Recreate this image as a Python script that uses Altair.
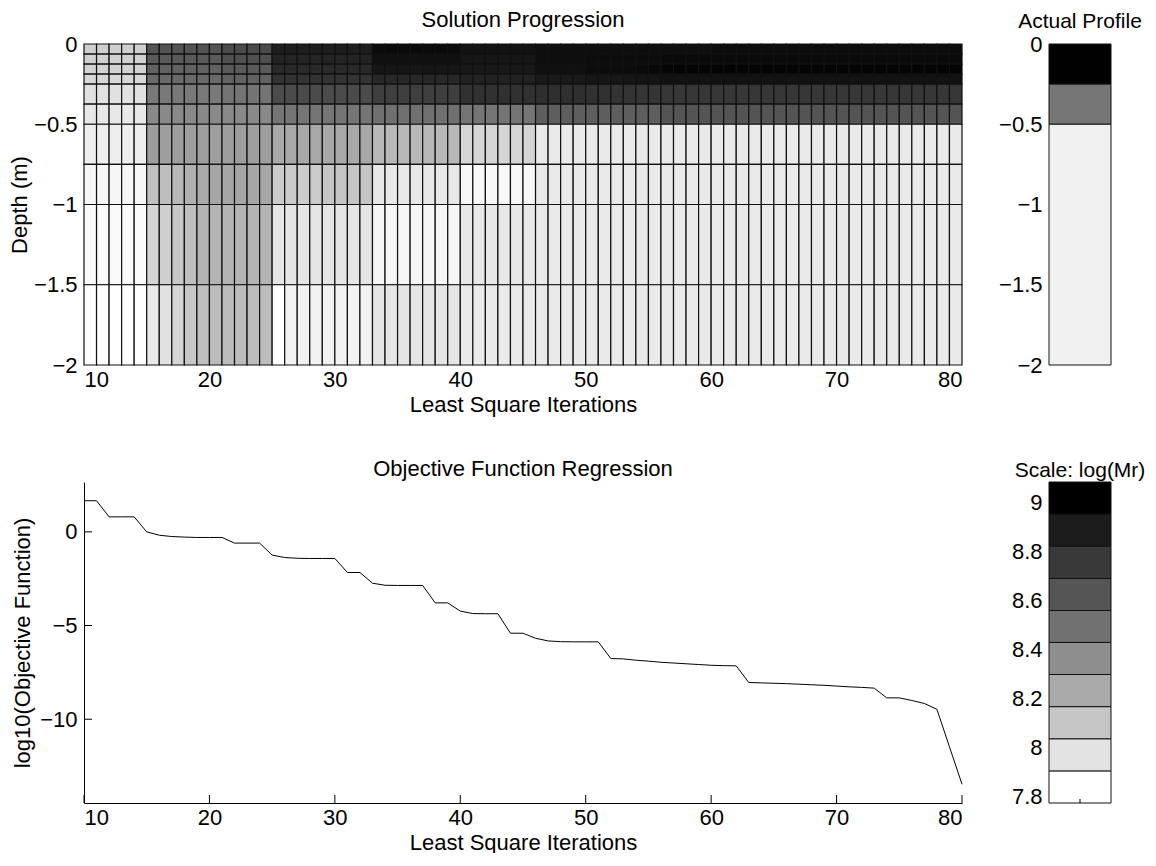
import altair as alt
import pandas as pd

# ---------------- data ----------------
iterations = list(range(10, 81))

objective = [1.66, 1.66, 0.80, 0.80, 0.80, 0.00, -0.18, -0.25, -0.28, -0.30,
             -0.30, -0.30, -0.60, -0.60, -0.60, -1.24, -1.37, -1.41, -1.42, -1.42,
             -1.42, -2.17, -2.17, -2.74, -2.85, -2.86, -2.86, -2.86, -3.79, -3.79,
             -4.23, -4.36, -4.37, -4.37, -5.41, -5.41, -5.68, -5.82, -5.86, -5.87,
             -5.87, -5.87, -6.76, -6.78, -6.85, -6.90, -6.96, -7.00, -7.04, -7.08,
             -7.12, -7.14, -7.15, -8.04, -8.06, -8.08, -8.10, -8.13, -8.16, -8.19,
             -8.23, -8.27, -8.30, -8.34, -8.86, -8.86, -9.00, -9.16, -9.47, -11.47,
             -13.47]

depth_edges = [0, -0.0625, -0.125, -0.1875, -0.25, -0.375, -0.5, -0.75, -1.0, -1.5, -2.0]

# log(Mr) per layer, one value per iteration column 10..79
L1 = [8.02, 8.02, 8.02, 8.02, 8.02, 8.65, 8.65, 8.65, 8.65, 8.65,
      8.65, 8.70, 8.70, 8.70, 8.70, 8.93, 8.93, 8.93, 8.93, 8.93,
      8.93, 8.93, 8.93, 9.03, 9.03, 9.03, 9.03, 9.03, 9.03, 9.03,
      8.99, 8.99, 8.99, 8.99, 8.99, 8.99, 9.01, 9.01, 9.01, 9.01,
      9.01, 9.01, 9.01, 9.01, 9.01, 9.01, 9.01, 9.01, 9.01, 9.01,
      9.02, 9.02, 9.02, 9.02, 9.02, 9.02, 9.02, 9.02, 9.02, 9.02,
      9.02, 9.02, 9.02, 9.02, 9.02, 9.02, 9.02, 9.02, 9.02, 9.02]
L2 = [8.01, 8.01, 8.01, 8.01, 8.01, 8.62, 8.62, 8.62, 8.62, 8.62,
      8.62, 8.67, 8.67, 8.67, 8.67, 8.90, 8.90, 8.90, 8.90, 8.90,
      8.90, 8.90, 8.90, 9.00, 9.00, 9.00, 9.00, 9.00, 9.00, 9.00,
      8.97, 8.97, 8.97, 8.97, 8.97, 8.97, 9.01, 9.01, 9.01, 9.01,
      9.02, 9.02, 9.02, 9.02, 9.02, 9.02, 9.03, 9.03, 9.03, 9.03,
      9.03, 9.03, 9.03, 9.03, 9.03, 9.03, 9.03, 9.03, 9.03, 9.03,
      9.03, 9.03, 9.03, 9.03, 9.03, 9.03, 9.03, 9.03, 9.03, 9.03]
L3 = [8.00, 8.00, 8.00, 8.00, 8.00, 8.58, 8.58, 8.58, 8.58, 8.58,
      8.58, 8.62, 8.62, 8.62, 8.62, 8.87, 8.87, 8.87, 8.87, 8.87,
      8.87, 8.87, 8.87, 8.97, 8.97, 8.97, 8.97, 8.97, 8.97, 8.97,
      8.96, 8.96, 8.96, 8.96, 8.96, 8.96, 9.00, 9.00, 9.00, 9.00,
      9.02, 9.02, 9.02, 9.02, 9.03, 9.04, 9.05, 9.06, 9.06, 9.06,
      9.06, 9.06, 9.06, 9.06, 9.06, 9.06, 9.06, 9.06, 9.06, 9.06,
      9.06, 9.06, 9.06, 9.06, 9.06, 9.06, 9.06, 9.06, 9.06, 9.06]
L4 = [7.98, 7.98, 7.98, 7.98, 7.98, 8.54, 8.54, 8.54, 8.54, 8.54,
      8.54, 8.58, 8.58, 8.58, 8.58, 8.82, 8.82, 8.82, 8.82, 8.82,
      8.82, 8.82, 8.82, 8.88, 8.88, 8.88, 8.88, 8.88, 8.88, 8.88,
      8.91, 8.91, 8.91, 8.91, 8.91, 8.91, 8.95, 8.95, 8.95, 8.95,
      8.97, 8.97, 8.97, 8.97, 8.98, 8.98, 8.99, 8.99, 8.99, 8.99,
      8.99, 8.99, 8.99, 8.99, 8.99, 8.99, 8.99, 8.99, 8.99, 8.99,
      8.99, 8.99, 8.99, 8.99, 8.99, 8.99, 8.99, 8.99, 8.99, 8.99]
L5 = [7.93, 7.93, 7.93, 7.93, 7.93, 8.46, 8.46, 8.46, 8.46, 8.46,
      8.46, 8.49, 8.49, 8.49, 8.49, 8.70, 8.70, 8.70, 8.70, 8.70,
      8.70, 8.70, 8.70, 8.76, 8.76, 8.76, 8.76, 8.76, 8.76, 8.76,
      8.83, 8.83, 8.83, 8.83, 8.83, 8.83, 8.84, 8.84, 8.84, 8.84,
      8.83, 8.83, 8.82, 8.82, 8.81, 8.81, 8.80, 8.80, 8.80, 8.80,
      8.80, 8.80, 8.80, 8.80, 8.80, 8.80, 8.80, 8.80, 8.80, 8.80,
      8.80, 8.80, 8.80, 8.80, 8.80, 8.80, 8.80, 8.80, 8.80, 8.80]
L6 = [7.89, 7.89, 7.89, 7.89, 7.89, 8.38, 8.38, 8.38, 8.38, 8.38,
      8.38, 8.38, 8.38, 8.38, 8.38, 8.48, 8.48, 8.48, 8.48, 8.48,
      8.48, 8.48, 8.48, 8.51, 8.51, 8.51, 8.51, 8.51, 8.51, 8.51,
      8.48, 8.48, 8.48, 8.48, 8.48, 8.48, 8.60, 8.60, 8.60, 8.60,
      8.60, 8.60, 8.60, 8.60, 8.60, 8.60, 8.65, 8.65, 8.65, 8.65,
      8.65, 8.65, 8.65, 8.65, 8.65, 8.65, 8.65, 8.65, 8.65, 8.65,
      8.65, 8.65, 8.65, 8.65, 8.65, 8.65, 8.65, 8.65, 8.65, 8.65]
L7 = [7.86, 7.86, 7.86, 7.86, 7.86, 8.27, 8.27, 8.27, 8.27, 8.27,
      8.27, 8.27, 8.27, 8.27, 8.27, 8.22, 8.22, 8.22, 8.22, 8.22,
      8.22, 8.22, 8.22, 8.14, 8.14, 8.14, 8.14, 8.14, 8.14, 8.14,
      7.99, 7.99, 7.99, 7.99, 7.99, 7.99, 7.88, 7.88, 7.88, 7.88,
      7.88, 7.88, 7.88, 7.88, 7.88, 7.88, 7.88, 7.88, 7.88, 7.88,
      7.88, 7.88, 7.88, 7.88, 7.88, 7.88, 7.88, 7.88, 7.88, 7.88,
      7.88, 7.88, 7.88, 7.88, 7.88, 7.88, 7.88, 7.88, 7.88, 7.88]
L8 = [7.82, 7.82, 7.82, 7.82, 7.82, 8.10, 8.11, 8.14, 8.18, 8.21,
      8.23, 8.23, 8.23, 8.23, 8.23, 8.04, 8.04, 8.04, 8.04, 8.07,
      8.07, 8.07, 8.07, 7.89, 7.89, 7.89, 7.89, 7.89, 7.89, 7.89,
      7.81, 7.81, 7.81, 7.81, 7.81, 7.81, 7.88, 7.88, 7.88, 7.88,
      7.88, 7.88, 7.88, 7.88, 7.88, 7.88, 7.88, 7.88, 7.88, 7.88,
      7.88, 7.88, 7.88, 7.88, 7.88, 7.88, 7.88, 7.88, 7.88, 7.88,
      7.88, 7.88, 7.88, 7.88, 7.88, 7.88, 7.88, 7.88, 7.88, 7.88]
L9 = [7.80, 7.80, 7.80, 7.80, 7.80, 7.99, 8.02, 8.06, 8.10, 8.16,
      8.16, 8.16, 8.16, 8.16, 8.16, 7.91, 7.91, 7.91, 7.91, 7.91,
      7.91, 7.91, 7.91, 7.82, 7.82, 7.82, 7.82, 7.82, 7.82, 7.82,
      7.89, 7.89, 7.89, 7.89, 7.89, 7.89, 7.88, 7.88, 7.88, 7.88,
      7.88, 7.88, 7.88, 7.88, 7.88, 7.88, 7.88, 7.88, 7.88, 7.88,
      7.88, 7.88, 7.88, 7.88, 7.88, 7.88, 7.88, 7.88, 7.88, 7.88,
      7.88, 7.88, 7.88, 7.88, 7.88, 7.88, 7.88, 7.88, 7.88, 7.88]
L10 = [7.77, 7.77, 7.77, 7.77, 7.77, 7.88, 7.93, 7.99, 8.06, 8.10,
       8.12, 8.12, 8.12, 8.12, 8.12, 7.77, 7.84, 7.84, 7.84, 7.84,
       7.84, 7.84, 7.84, 7.91, 7.91, 7.91, 7.91, 7.91, 7.91, 7.91,
       7.88, 7.88, 7.88, 7.88, 7.88, 7.88, 7.88, 7.88, 7.88, 7.88,
       7.88, 7.88, 7.88, 7.88, 7.88, 7.88, 7.88, 7.88, 7.88, 7.88,
       7.88, 7.88, 7.88, 7.88, 7.88, 7.88, 7.88, 7.88, 7.88, 7.88,
       7.88, 7.88, 7.88, 7.88, 7.88, 7.88, 7.88, 7.88, 7.88, 7.88]
layers = [L1, L2, L3, L4, L5, L6, L7, L8, L9, L10]

true_edges = [0, -0.25, -0.5, -2.0]
true_logmr = [9.08, 8.477, 7.85]

scale_min, scale_max = 7.774, 9.083
band_edges = [7.774, 7.905, 8.036, 8.167, 8.298, 8.429, 8.559, 8.690, 8.821, 8.952, 9.083]
cbar_ticks = [7.8, 8.0, 8.2, 8.4, 8.6, 8.8, 9.0]
iter_ticks = [10, 20, 30, 40, 50, 60, 70, 80]
depth_ticks = [0, -0.5, -1, -1.5, -2]
obj_ticks = [-10, -5, 0]

# ---------------- tables ----------------
heat_rows = []
for k, layer in enumerate(layers):
    for j, v in enumerate(layer):
        heat_rows.append({"x0": iterations[j], "x1": iterations[j + 1],
                          "d0": depth_edges[k], "d1": depth_edges[k + 1], "v": v})
heat_df = pd.DataFrame(heat_rows)

prof_df = pd.DataFrame({"x0": [0] * 3, "x1": [1] * 3,
                        "d0": true_edges[:-1], "d1": true_edges[1:], "v": true_logmr})
line_df = pd.DataFrame({"it": iterations, "obj": objective})
band_df = pd.DataFrame({"x0": [0] * 10, "x1": [1] * 10,
                        "lo": band_edges[:-1], "hi": band_edges[1:]})
band_df["mid"] = (band_df["lo"] + band_df["hi"]) / 2

FONT = "Liberation Sans, Arial, Helvetica, sans-serif"
FS = 22
W_MAIN, W_SIDE, H = 878, 62, 321

gray_scale = alt.Scale(domain=[scale_min, scale_max], range=["#ffffff", "#000000"],
                       interpolate="rgb")
gray10 = ["#ffffff", "#e3e3e3", "#c6c6c6", "#aaaaaa", "#8e8e8e",
          "#717171", "#555555", "#393939", "#1c1c1c", "#000000"]


def title(text, size=FS, dx=0):
    return alt.TitleParams(text=text, fontSize=size, fontWeight="normal", font=FONT,
                           color="black", offset=1, frame="group", dx=dx)


# ---- top left: solution progression ----
heat = alt.Chart(heat_df).mark_rect(stroke="#111111", strokeWidth=1.2).encode(
    x=alt.X("x0:Q", scale=alt.Scale(domain=[10, 80], nice=False, zero=False),
            axis=alt.Axis(values=iter_ticks, title="Least Square Iterations",
                          ticks=False, domain=False, grid=False, labelPadding=4,
                          titlePadding=4)),
    x2="x1:Q",
    y=alt.Y("d0:Q", scale=alt.Scale(domain=[-2, 0], nice=False, zero=False),
            axis=alt.Axis(values=depth_ticks, format="~g", title="Depth (m)",
                          ticks=False, domain=False, grid=False, labelPadding=7,
                          titleX=-65, titleY=H / 2, titleBaseline="middle")),
    y2="d1:Q",
    color=alt.Color("v:Q", scale=gray_scale, legend=None),
).properties(width=W_MAIN, height=H, title=title("Solution Progression"),
             view=alt.ViewBackground(stroke=None))

# ---- top right: actual profile ----
prof = alt.Chart(prof_df).mark_rect(stroke="#111111", strokeWidth=1).encode(
    x=alt.X("x0:Q", scale=alt.Scale(domain=[0, 1], nice=False), axis=None),
    x2="x1:Q",
    y=alt.Y("d0:Q", scale=alt.Scale(domain=[-2, 0], nice=False, zero=False),
            axis=alt.Axis(values=depth_ticks, format="~g", title=None,
                          ticks=False, domain=False, grid=False, labelPadding=7)),
    y2="d1:Q",
    color=alt.Color("v:Q", scale=gray_scale, legend=None),
).properties(width=W_SIDE, height=H, title=title("Actual Profile", size=21),
             view=alt.ViewBackground(stroke=None))

# ---- bottom left: objective function ----
ymin, ymax = min(objective) - 1, max(objective) + 1
xs = alt.Scale(domain=[10, 80], nice=False, zero=False)
ys = alt.Scale(domain=[ymin, ymax], nice=False, zero=False)
line = alt.Chart(line_df).mark_line(color="black", strokeWidth=1).encode(
    x=alt.X("it:Q", scale=xs,
            axis=alt.Axis(values=iter_ticks, title="Least Square Iterations",
                          ticks=False, grid=False, domainColor="black",
                          domainWidth=1, labelPadding=4, titlePadding=4)),
    y=alt.Y("obj:Q", scale=ys,
            axis=alt.Axis(values=obj_ticks, format="~g",
                          title="log10(Objective Function)",
                          ticks=False, grid=False, domainColor="black",
                          domainWidth=1, labelPadding=7,
                          titleX=-62, titleY=H / 2, titleBaseline="middle")),
)
xtick = alt.Chart(pd.DataFrame({"t": iter_ticks})).mark_rule(color="black").encode(
    x=alt.X("t:Q", scale=xs), y=alt.value(H), y2=alt.value(H - 8))
ytick = alt.Chart(pd.DataFrame({"t": obj_ticks})).mark_rule(color="black").encode(
    y=alt.Y("t:Q", scale=ys), x=alt.value(0), x2=alt.value(8))
obj_chart = alt.layer(line, xtick, ytick).properties(
    width=W_MAIN, height=H, title=title("Objective Function Regression"),
    view=alt.ViewBackground(stroke=None))

# ---- bottom right: colour scale ----
cb_y = alt.Scale(domain=[scale_min, scale_max], nice=False, zero=False)
bands = alt.Chart(band_df).mark_rect(stroke="#111111", strokeWidth=1).encode(
    x=alt.X("x0:Q", scale=alt.Scale(domain=[0, 1], nice=False), axis=None),
    x2="x1:Q",
    y=alt.Y("lo:Q", scale=cb_y,
            axis=alt.Axis(values=cbar_ticks, format="~g", title=None,
                          ticks=False, domain=False, grid=False, labelPadding=7)),
    y2="hi:Q",
    color=alt.Color("mid:Q", scale=alt.Scale(type="quantize",
                                             domain=[scale_min, scale_max],
                                             range=gray10), legend=None),
)
cb_tick = alt.Chart(pd.DataFrame({"t": [0.5]})).mark_rule(color="black").encode(
    x=alt.X("t:Q", scale=alt.Scale(domain=[0, 1], nice=False)),
    y=alt.value(H), y2=alt.value(H - 4))
cbar = alt.layer(bands, cb_tick).properties(
    width=W_SIDE, height=H, title=title("Scale: log(Mr)", size=21),
    view=alt.ViewBackground(stroke=None))

chart = alt.concat(heat, prof, obj_chart, cbar, columns=2,
                   spacing={"row": 43, "column": 34}, align="each").resolve_scale(
    color="independent"
).properties(padding={"left": 0, "top": 1, "right": 0, "bottom": 0}).configure_axis(
    labelFont=FONT, titleFont=FONT, labelFontSize=FS, titleFontSize=FS,
    labelColor="black", titleColor="black", titleFontWeight="normal"
).configure_view(stroke=None)

chart.save("out.html", embed_options={"renderer": "svg", "actions": False})
